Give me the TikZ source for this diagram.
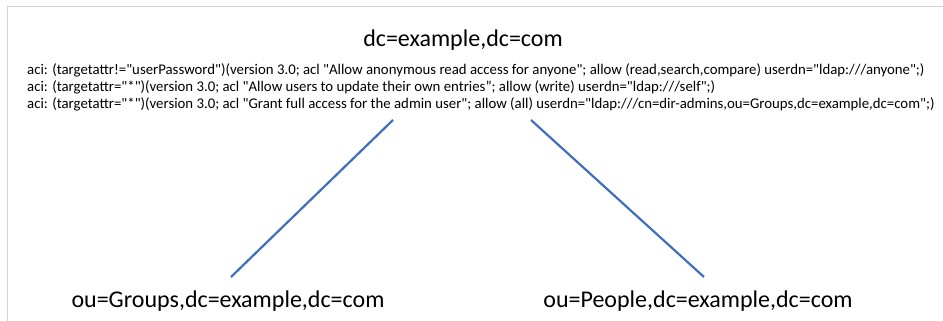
\documentclass[tikz,border=0pt]{standalone}
\usepackage{fontspec}
\setmainfont{Carlito}[Ligatures=TeXOff]
\usetikzlibrary{positioning}
\definecolor{linkblue}{HTML}{3F6FBF}
\definecolor{framegray}{HTML}{D2D2D2}
\begin{document}
\begin{tikzpicture}[x=1pt,y=1pt,inner sep=0pt,
  dn/.style={anchor=base,font=\fontsize{24}{29}\selectfont},
  link/.style={linkblue,line width=2.2pt}]
\useasboundingbox (0,0) rectangle (943,-321);
\draw[framegray,line width=1pt] (7,-321) -- (7,-7) -- (943,-7);
\node[dn] (root) at (463,-47) {dc=example,dc=com};
% the node's base is the baseline of its last line
\node[anchor=base west,align=left,font=\fontsize{14.8}{16.5}\selectfont] (acl) at (27,-108)
{aci: (targetattr!="userPassword")(version 3.0; acl "Allow anonymous read access for anyone"; allow (read,search,compare) userdn="ldap:///anyone";)\\
aci: (targetattr="*")(version 3.0; acl "Allow users to update their own entries”; allow (write) userdn="ldap:///self";)\\
aci: (targetattr="*")(version 3.0; acl "Grant full access for the admin user"; allow (all) userdn="ldap:///cn=dir-admins,ou=Groups,dc=example,dc=com";)};
\node[dn] (groups) at (228,-307) {ou=Groups,dc=example,dc=com};
\node[dn] (people) at (698,-307) {ou=People,dc=example,dc=com};
\coordinate (gtop) at (393,-120);
\coordinate (gbot) at (231,-277);
\coordinate (ptop) at (531,-120);
\coordinate (pbot) at (704,-277);
\path[link]
(gtop) edge (gbot)
(ptop) edge (pbot);
\end{tikzpicture}
\end{document}
